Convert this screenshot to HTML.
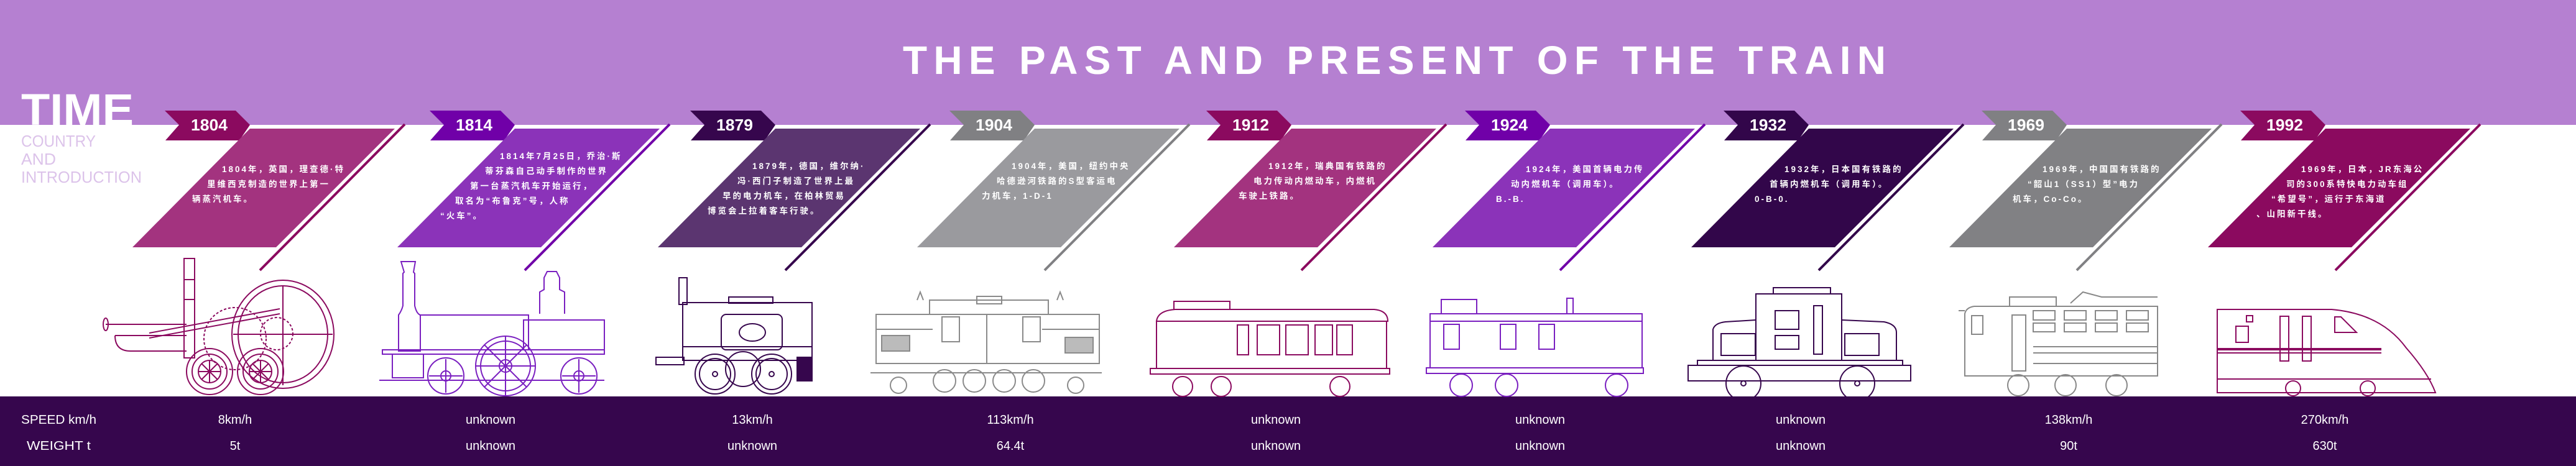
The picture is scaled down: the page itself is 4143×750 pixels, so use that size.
<!DOCTYPE html>
<html><head><meta charset="utf-8"><style>
html,body{margin:0;padding:0;background:#fff;}
svg{display:block;}
.cn{font-family:"Liberation Sans","Noto Sans CJK SC",sans-serif;font-weight:bold;font-size:13.5px;letter-spacing:3px;fill:#fff;}
.yr{font-family:"Liberation Sans",sans-serif;font-weight:bold;font-size:26px;fill:#fff;}
.bt{font-family:"Liberation Sans",sans-serif;font-size:20px;fill:#fff;}
</style></head><body>
<svg width="4143" height="750" viewBox="0 0 4143 750" xmlns="http://www.w3.org/2000/svg">
<rect x="0" y="0" width="4143" height="201" fill="#b580d1"/>
<rect x="0" y="638" width="4143" height="112" fill="#36064d"/>
<text x="1452" y="119" font-family="Liberation Sans, sans-serif" font-weight="bold" font-size="64" fill="#fff" textLength="1581" lengthAdjust="spacing">THE PAST AND PRESENT OF THE TRAIN</text>
<text x="34" y="201" font-family="Liberation Sans, sans-serif" font-weight="bold" font-size="71" fill="#fff" textLength="181" lengthAdjust="spacingAndGlyphs">TIME</text>
<g font-family="Liberation Sans, sans-serif" font-size="26" fill="#dcc3ea">
<text x="34" y="236" textLength="120" lengthAdjust="spacingAndGlyphs">COUNTRY</text>
<text x="34" y="265" textLength="56" lengthAdjust="spacingAndGlyphs">AND</text>
<text x="34" y="294" textLength="194" lengthAdjust="spacingAndGlyphs">INTRODUCTION</text>
</g>

<g id="cards">
<g transform="translate(265,0)">
<path d="M0,178 L114,178 L137,201 L120,226 L1,226 L23,201Z" fill="#8b0a5f"/>
<path d="M137,207 L370,207 L179,398 L-52,398Z" fill="#a3337f"/>
<line x1="386" y1="200" x2="153" y2="435" stroke="#8b0a5f" stroke-width="4"/>
<text class="yr" x="42" y="210" textLength="59" lengthAdjust="spacingAndGlyphs">1804</text>
<text class="cn" x="92" y="277">1804年，英国，理查德·特</text>
<text class="cn" x="68" y="301">里维西克制造的世界上第一</text>
<text class="cn" x="44" y="325">辆蒸汽机车。</text>
</g>
<g transform="translate(691,0)">
<path d="M0,178 L114,178 L137,201 L120,226 L1,226 L23,201Z" fill="#7000a8"/>
<path d="M137,207 L370,207 L179,398 L-52,398Z" fill="#8b33b9"/>
<line x1="386" y1="200" x2="153" y2="435" stroke="#7000a8" stroke-width="4"/>
<text class="yr" x="42" y="210" textLength="59" lengthAdjust="spacingAndGlyphs">1814</text>
<text class="cn" x="113" y="256">1814年7月25日，乔治·斯</text>
<text class="cn" x="89" y="280">蒂芬森自己动手制作的世界</text>
<text class="cn" x="65" y="304">第一台蒸汽机车开始运行，</text>
<text class="cn" x="41" y="328">取名为“布鲁克”号，人称</text>
<text class="cn" x="17" y="352">“火车”。</text>
</g>
<g transform="translate(1110,0)">
<path d="M0,178 L114,178 L137,201 L120,226 L1,226 L23,201Z" fill="#36064d"/>
<path d="M137,207 L370,207 L179,398 L-52,398Z" fill="#5b3570"/>
<line x1="386" y1="200" x2="153" y2="435" stroke="#36064d" stroke-width="4"/>
<text class="yr" x="42" y="210" textLength="59" lengthAdjust="spacingAndGlyphs">1879</text>
<text class="cn" x="100" y="272">1879年，德国，维尔纳·</text>
<text class="cn" x="76" y="296">冯·西门子制造了世界上最</text>
<text class="cn" x="52" y="320">早的电力机车，在柏林贸易</text>
<text class="cn" x="28" y="344">博览会上拉着客车行驶。</text>
</g>
<g transform="translate(1527,0)">
<path d="M0,178 L114,178 L137,201 L120,226 L1,226 L23,201Z" fill="#808083"/>
<path d="M137,207 L370,207 L179,398 L-52,398Z" fill="#9a9a9e"/>
<line x1="386" y1="200" x2="153" y2="435" stroke="#808083" stroke-width="4"/>
<text class="yr" x="42" y="210" textLength="59" lengthAdjust="spacingAndGlyphs">1904</text>
<text class="cn" x="100" y="272">1904年，美国，纽约中央</text>
<text class="cn" x="76" y="296">哈德逊河铁路的S型客运电</text>
<text class="cn" x="52" y="320">力机车，1-D-1</text>
</g>
<g transform="translate(1940,0)">
<path d="M0,178 L114,178 L137,201 L120,226 L1,226 L23,201Z" fill="#8b0a5f"/>
<path d="M137,207 L370,207 L179,398 L-52,398Z" fill="#a3337f"/>
<line x1="386" y1="200" x2="153" y2="435" stroke="#8b0a5f" stroke-width="4"/>
<text class="yr" x="42" y="210" textLength="59" lengthAdjust="spacingAndGlyphs">1912</text>
<text class="cn" x="100" y="272">1912年，瑞典国有铁路的</text>
<text class="cn" x="76" y="296">电力传动内燃动车，内燃机</text>
<text class="cn" x="52" y="320">车驶上铁路。</text>
</g>
<g transform="translate(2356,0)">
<path d="M0,178 L114,178 L137,201 L120,226 L1,226 L23,201Z" fill="#7000a8"/>
<path d="M137,207 L370,207 L179,398 L-52,398Z" fill="#8b33b9"/>
<line x1="386" y1="200" x2="153" y2="435" stroke="#7000a8" stroke-width="4"/>
<text class="yr" x="42" y="210" textLength="59" lengthAdjust="spacingAndGlyphs">1924</text>
<text class="cn" x="98" y="277">1924年，美国首辆电力传</text>
<text class="cn" x="74" y="301">动内燃机车（调用车）。</text>
<text class="cn" x="50" y="325">B.-B.</text>
</g>
<g transform="translate(2772,0)">
<path d="M0,178 L114,178 L137,201 L120,226 L1,226 L23,201Z" fill="#32064a"/>
<path d="M137,207 L370,207 L179,398 L-52,398Z" fill="#32064a"/>
<line x1="386" y1="200" x2="153" y2="435" stroke="#32064a" stroke-width="4"/>
<text class="yr" x="42" y="210" textLength="59" lengthAdjust="spacingAndGlyphs">1932</text>
<text class="cn" x="98" y="277">1932年，日本国有铁路的</text>
<text class="cn" x="74" y="301">首辆内燃机车（调用车）。</text>
<text class="cn" x="50" y="325">0-B-0.</text>
</g>
<g transform="translate(3187,0)">
<path d="M0,178 L114,178 L137,201 L120,226 L1,226 L23,201Z" fill="#808083"/>
<path d="M137,207 L370,207 L179,398 L-52,398Z" fill="#818184"/>
<line x1="386" y1="200" x2="153" y2="435" stroke="#808083" stroke-width="4"/>
<text class="yr" x="42" y="210" textLength="59" lengthAdjust="spacingAndGlyphs">1969</text>
<text class="cn" x="98" y="277">1969年，中国国有铁路的</text>
<text class="cn" x="74" y="301">“韶山1（SS1）型”电力</text>
<text class="cn" x="50" y="325">机车，Co-Co。</text>
</g>
<g transform="translate(3603,0)">
<path d="M0,178 L114,178 L137,201 L120,226 L1,226 L23,201Z" fill="#8b0a5f"/>
<path d="M137,207 L370,207 L179,398 L-52,398Z" fill="#8b0a5f"/>
<line x1="386" y1="200" x2="153" y2="435" stroke="#8b0a5f" stroke-width="4"/>
<text class="yr" x="42" y="210" textLength="59" lengthAdjust="spacingAndGlyphs">1992</text>
<text class="cn" x="98" y="277">1969年，日本，JR东海公</text>
<text class="cn" x="74" y="301">司的300系特快电力动车组</text>
<text class="cn" x="50" y="325">“希望号”，运行于东海道</text>
<text class="cn" x="26" y="349">、山阳新干线。</text>
</g>
</g>

<g fill="none" stroke-width="2">
<g stroke="#8b0a5f">
<rect x="296" y="416" width="17" height="160"/>
<line x1="296" y1="450" x2="313" y2="450"/><line x1="296" y1="482" x2="313" y2="482"/>
<ellipse cx="455" cy="538" rx="82" ry="87"/>
<ellipse cx="455" cy="538" rx="72" ry="78"/>
<line x1="455" y1="460" x2="455" y2="620"/>
<line x1="375" y1="538" x2="535" y2="538"/>
<circle cx="378" cy="545" r="50" stroke-dasharray="4 3"/>
<circle cx="445" cy="537" r="26" stroke-dasharray="4 3"/>
<line x1="240" y1="536" x2="450" y2="497"/>
<line x1="240" y1="544" x2="450" y2="505"/>
<line x1="170" y1="522" x2="300" y2="522"/>
<ellipse cx="170" cy="522" rx="4" ry="10"/>
<path d="M185,540 L300,540 M185,540 Q185,565 210,565 L300,565"/>
<circle cx="337" cy="598" r="37"/><circle cx="337" cy="598" r="28"/><circle cx="337" cy="598" r="18"/>
<circle cx="419" cy="598" r="37"/><circle cx="419" cy="598" r="28"/><circle cx="419" cy="598" r="18"/>
<path d="M319,598 L355,598 M337,580 L337,616 M324,585 L350,611 M350,585 L324,611 M401,598 L437,598 M419,580 L419,616 M406,585 L432,611 M432,585 L406,611"/>
</g>
<g stroke="#7a1fc0">
<path d="M645,421 L668,421 L665,438 L667,440 L667,492 Q670,505 676,507 L676,565 L641,565 L641,507 Q646,500 648,492 L648,440 L650,438Z"/>
<rect x="676" y="507" width="174" height="56"/>
<path d="M868,505 L868,470 L875,466 L875,447 L880,437 L895,437 L900,447 L900,466 L908,470 L908,505"/>
<rect x="842" y="515" width="130" height="48"/>
<rect x="615" y="563" width="357" height="7"/>
<rect x="631" y="570" width="50" height="38"/>
<circle cx="717" cy="605" r="29"/><circle cx="717" cy="605" r="8"/>
<circle cx="813" cy="589" r="48"/><circle cx="813" cy="589" r="40"/><circle cx="813" cy="589" r="10"/>
<circle cx="931" cy="605" r="29"/><circle cx="931" cy="605" r="8"/>
<path d="M717,578 L717,632 M690,605 L744,605 M813,541 L813,637 M765,589 L861,589 M779,555 L847,623 M847,555 L779,623 M931,578 L931,632 M904,605 L958,605"/>
<line x1="610" y1="612" x2="972" y2="612"/>
</g>
<g stroke="#36064d">
<rect x="1098" y="487" width="208" height="93"/>
<rect x="1172" y="478" width="71" height="10"/>
<rect x="1160" y="506" width="98" height="57" rx="8"/>
<ellipse cx="1210" cy="535" rx="21" ry="14"/>
<rect x="1092" y="447" width="13" height="43"/>
<line x1="1098" y1="558" x2="1306" y2="558"/>
<circle cx="1150" cy="602" r="32"/><circle cx="1150" cy="602" r="25"/><circle cx="1150" cy="602" r="4"/>
<circle cx="1195" cy="594" r="28"/>
<circle cx="1241" cy="602" r="32"/><circle cx="1241" cy="602" r="25"/><circle cx="1241" cy="602" r="4"/>
<rect x="1055" y="575" width="45" height="12"/>
<rect x="1282" y="575" width="24" height="38" fill="#36064d"/>
</g>
<g stroke="#8a8a8a">
<rect x="1409" y="506" width="359" height="79"/>
<rect x="1495" y="483" width="191" height="23"/>
<rect x="1571" y="477" width="40" height="12"/>
<line x1="1409" y1="530" x2="1500" y2="530"/><line x1="1676" y1="530" x2="1768" y2="530"/>
<rect x="1418" y="540" width="45" height="25" fill="#bbb"/>
<rect x="1713" y="543" width="45" height="25" fill="#bbb"/>
<rect x="1515" y="510" width="28" height="40"/>
<rect x="1645" y="510" width="28" height="40"/>
<line x1="1587" y1="506" x2="1587" y2="585"/>
<path d="M1475,483 L1480,470 L1485,483 M1700,483 L1705,470 L1710,483"/>
<line x1="1400" y1="600" x2="1772" y2="600"/>
<circle cx="1519" cy="613" r="18"/><circle cx="1567" cy="613" r="18"/><circle cx="1615" cy="613" r="18"/><circle cx="1662" cy="613" r="18"/>
<circle cx="1445" cy="620" r="13"/><circle cx="1730" cy="620" r="13"/>
</g>
<g stroke="#8b0a5f">
<path d="M1860,517 Q1862,500 1890,498 L2210,498 Q2232,500 2232,517Z"/>
<rect x="1860" y="517" width="370" height="76"/>
<rect x="1888" y="485" width="90" height="13"/>
<rect x="1990" y="523" width="18" height="48"/><rect x="2022" y="523" width="36" height="48"/>
<rect x="2068" y="523" width="36" height="48"/><rect x="2115" y="523" width="28" height="48"/><rect x="2150" y="523" width="25" height="48"/>
<rect x="1850" y="593" width="385" height="9"/>
<circle cx="1902" cy="622" r="16"/><circle cx="1964" cy="622" r="16"/><circle cx="2155" cy="622" r="16"/>
</g>
<g stroke="#7a1fc0">
<rect x="2300" y="505" width="341" height="12"/>
<rect x="2300" y="517" width="341" height="75"/>
<rect x="2318" y="482" width="57" height="23"/>
<rect x="2322" y="522" width="25" height="40"/><rect x="2413" y="522" width="25" height="40"/><rect x="2475" y="522" width="25" height="40"/>
<rect x="2520" y="480" width="10" height="25"/>
<rect x="2294" y="592" width="349" height="9"/>
<circle cx="2350" cy="620" r="18"/><circle cx="2423" cy="620" r="18"/><circle cx="2600" cy="620" r="18"/>
</g>
<g stroke="#36064d">
<rect x="2824" y="473" width="138" height="107"/>
<rect x="2852" y="463" width="92" height="10"/>
<path d="M2755,580 L2755,530 Q2758,520 2775,518 L2824,515 M2962,515 L3030,518 Q3050,522 3050,535 L3050,580"/>
<rect x="2768" y="537" width="55" height="35" fill="#fff"/>
<rect x="2967" y="537" width="55" height="35"/>
<rect x="2855" y="500" width="38" height="30"/>
<rect x="2855" y="540" width="38" height="22"/>
<rect x="2917" y="492" width="14" height="78"/>
<rect x="2730" y="580" width="330" height="8"/>
<rect x="2715" y="588" width="358" height="25"/>
<circle cx="2804" cy="617" r="28"/><circle cx="2804" cy="617" r="4"/>
<circle cx="2987" cy="617" r="28"/><circle cx="2987" cy="617" r="4"/>
</g>
<g stroke="#888">
<path d="M3160,605 L3160,505 Q3162,495 3175,493 L3470,493 L3470,605Z"/>
<rect x="3232" y="478" width="75" height="15"/>
<path d="M3330,488 L3350,470 L3380,478 L3470,478"/>
<line x1="3150" y1="500" x2="3160" y2="500"/>
<rect x="3171" y="508" width="18" height="30"/><rect x="3236" y="507" width="22" height="90"/>
<rect x="3270" y="500" width="35" height="15"/><rect x="3320" y="500" width="35" height="15"/><rect x="3370" y="500" width="35" height="15"/><rect x="3420" y="500" width="35" height="15"/>
<rect x="3270" y="520" width="35" height="14"/><rect x="3320" y="520" width="35" height="14"/><rect x="3370" y="520" width="35" height="14"/><rect x="3420" y="520" width="35" height="14"/>
<line x1="3270" y1="558" x2="3470" y2="558"/><line x1="3270" y1="568" x2="3470" y2="568"/><line x1="3270" y1="585" x2="3470" y2="585"/>
<circle cx="3246" cy="620" r="17"/><circle cx="3322" cy="620" r="17"/><circle cx="3404" cy="620" r="17"/>
</g>
<g stroke="#8b0a5f">
<path d="M3566,632 L3566,498 L3750,498 Q3830,505 3870,560 Q3905,600 3917,632Z"/>
<line x1="3566" y1="562" x2="3830" y2="562" stroke-width="4"/>
<line x1="3566" y1="568" x2="3830" y2="568"/>
<line x1="3566" y1="610" x2="3910" y2="610"/>
<rect x="3596" y="525" width="20" height="26"/>
<rect x="3667" y="509" width="14" height="72"/><rect x="3703" y="509" width="14" height="72"/>
<rect x="3613" y="508" width="10" height="10"/>
<path d="M3755,510 L3765,510 L3790,535 L3755,535Z"/>
<circle cx="3688" cy="625" r="12"/><circle cx="3808" cy="625" r="12"/>
</g>
</g>

<text class="bt" x="34" y="682" textLength="121" lengthAdjust="spacingAndGlyphs">SPEED km/h</text>
<text class="bt" x="43" y="724" textLength="103" lengthAdjust="spacingAndGlyphs">WEIGHT t</text>
<g class="bt" text-anchor="middle" font-size="19">
<text x="378" y="682">8km/h</text><text x="378" y="724">5t</text>
<text x="789" y="682">unknown</text><text x="789" y="724">unknown</text>
<text x="1210" y="682">13km/h</text><text x="1210" y="724">unknown</text>
<text x="1625" y="682">113km/h</text><text x="1625" y="724">64.4t</text>
<text x="2052" y="682">unknown</text><text x="2052" y="724">unknown</text>
<text x="2477" y="682">unknown</text><text x="2477" y="724">unknown</text>
<text x="2896" y="682">unknown</text><text x="2896" y="724">unknown</text>
<text x="3327" y="682">138km/h</text><text x="3327" y="724">90t</text>
<text x="3739" y="682">270km/h</text><text x="3739" y="724">630t</text>
</g>
</svg>
</body></html>
